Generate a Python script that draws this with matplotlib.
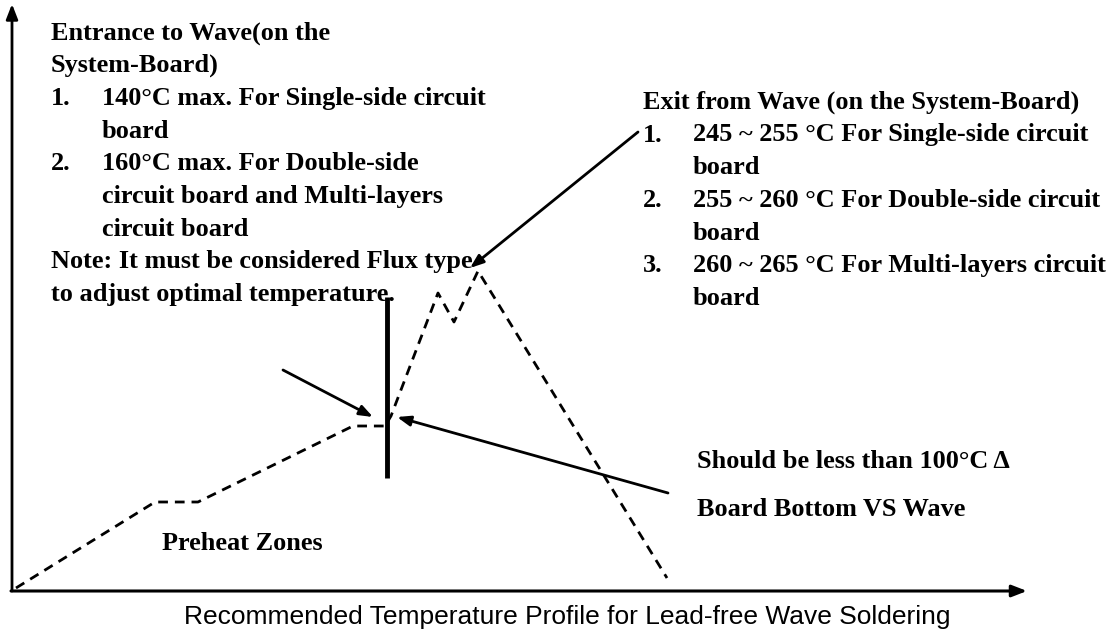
import matplotlib
matplotlib.use("Agg")
import matplotlib.pyplot as plt

# Schematic profile (x = time units, y = temperature units on a 0..634 canvas)
profile_time = [16, 155, 198, 353, 385, 391, 438, 454, 478, 667]
profile_temp = [46, 132, 132, 208, 208, 218, 341, 312, 363, 56]

entrance_lines = [
    ("", "Entrance to Wave(on the"),
    ("", "System-Board)"),
    ("1.", "140\u00b0C max. For Single-side circuit"),
    ("", "board"),
    ("2.", "160\u00b0C max. For Double-side"),
    ("", "circuit board and Multi-layers"),
    ("", "circuit board"),
]
note_lines = ["Note: It must be considered Flux type",
              "to adjust optimal temperature."]
exit_title = "Exit from Wave (on the System-Board)"
exit_lines = [
    ("1.", "245 ~ 255 \u00b0C For Single-side circuit"),
    ("", "board"),
    ("2.", "255 ~ 260 \u00b0C For Double-side circuit"),
    ("", "board"),
    ("3.", "260 ~ 265 \u00b0C For Multi-layers circuit"),
    ("", "board"),
]
delta_text = "Should be less than 100\u00b0C \u0394"
board_text = "Board Bottom VS Wave"
preheat_text = "Preheat Zones"
caption = "Recommended Temperature Profile for Lead-free Wave Soldering"

W, H = 1118, 634
fig = plt.figure(figsize=(W / 100, H / 100), dpi=100)
ax = fig.add_axes([0, 0, 1, 1])
ax.set_xlim(0, W)
ax.set_ylim(0, H)
ax.axis("off")

serif = "Liberation Serif"
fs = 18.9
tw = "bold"

def t(x, y, s):
    ax.text(x, y, s, family=serif, fontsize=fs, fontweight=tw, va="center", ha="left")

# axes arrows
ax.annotate("", xy=(12, H - 4), xytext=(12, H - 591),
            arrowprops=dict(arrowstyle="-|>,head_length=0.9,head_width=0.35",
                            lw=2, color="black", shrinkA=0, shrinkB=0))
ax.annotate("", xy=(1027, H - 591), xytext=(11, H - 591),
            arrowprops=dict(arrowstyle="-|>,head_length=0.9,head_width=0.35",
                            lw=2.2, color="black", shrinkA=0, shrinkB=0))

# profile
ax.plot(profile_time, profile_temp, color="black", lw=2, linestyle=(0, (3.5, 2.5)))

# wave entrance bar
ax.plot([387, 387], [H - 297, H - 478], color="black", lw=3.5, solid_capstyle="butt")

arrow_kw = dict(arrowstyle="-|>,head_length=0.8,head_width=0.3", lw=2,
                color="black", shrinkA=0, shrinkB=0)
ax.annotate("", xy=(373, H - 417), xytext=(283, H - 370), arrowprops=arrow_kw)
ax.annotate("", xy=(397, H - 417), xytext=(668, H - 493), arrowprops=arrow_kw)
ax.annotate("", xy=(470, H - 268), xytext=(638, H - 132), arrowprops=arrow_kw)

# left text block
y0 = 33
dy = 32.7
for i, (num, txt) in enumerate(entrance_lines):
    y = H - (y0 + i * dy)
    if num:
        t(51, y, num)
        t(102, y, txt)
    elif i < 2:
        t(51, y, txt)
    else:
        t(102, y, txt)
for j, txt in enumerate(note_lines):
    t(51, H - (y0 + (7 + j) * dy), txt)

# right text block
t(643, H - 102, exit_title)
for i, (num, txt) in enumerate(exit_lines):
    y = H - (135 + i * 32.7)
    if num:
        t(643, y, num)
    t(693, y, txt)

t(697, H - 462, delta_text)
t(697, H - 509, board_text)
t(162, H - 544, preheat_text)

ax.text(567, H - 617, caption, family="Liberation Sans", fontsize=19,
        va="center", ha="center")

fig.savefig("out.png", dpi=100)
